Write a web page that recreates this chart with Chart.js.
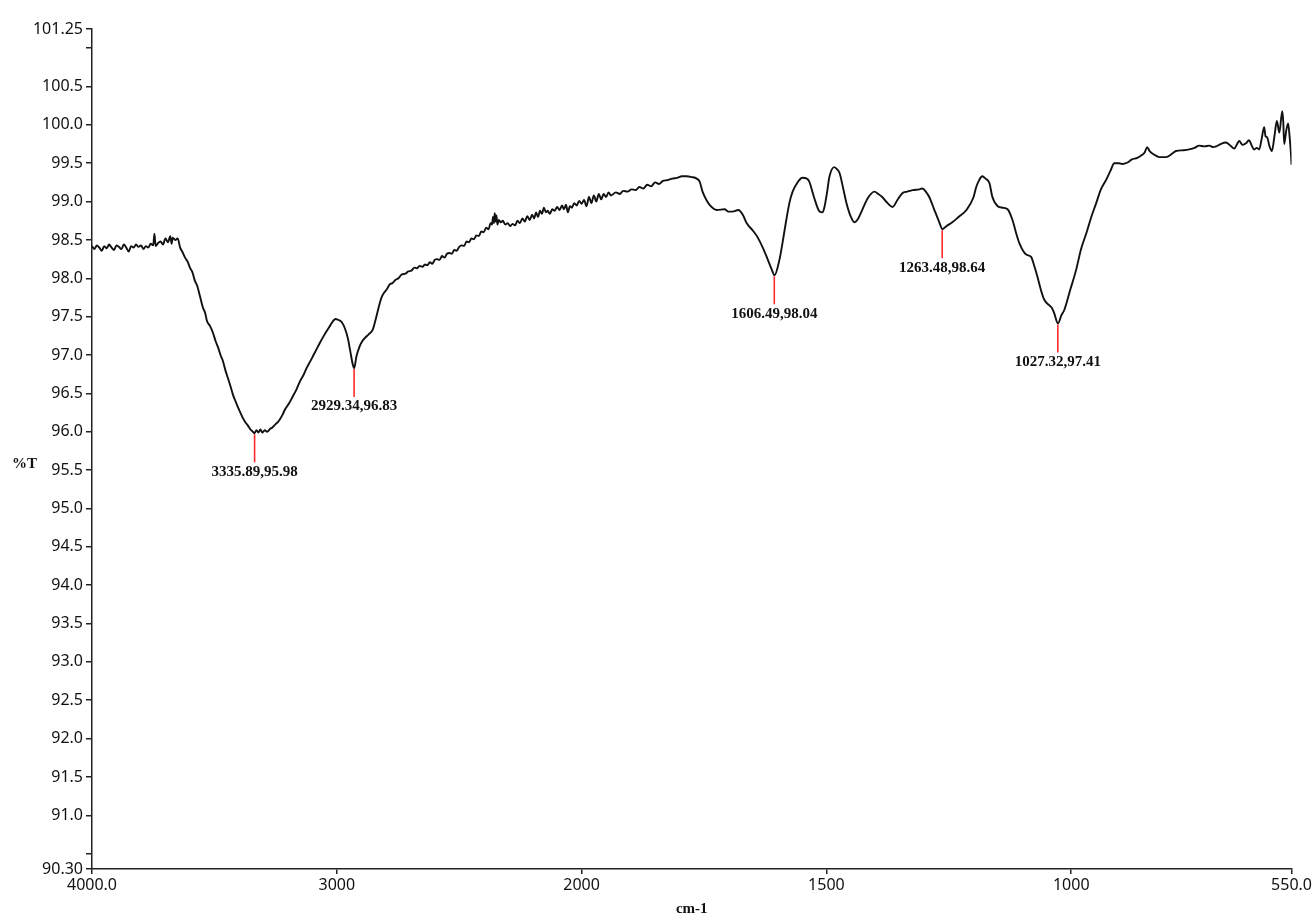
<!DOCTYPE html>
<html>
<head>
<meta charset="utf-8">
<title>FTIR spectrum</title>
<script src="https://cdn.jsdelivr.net/npm/chart.js@4.4.1/dist/chart.umd.min.js"></script>
<style>
  html, body { margin: 0; padding: 0; background: #fff; }
  #wrap { width: 1314px; height: 919px; }
</style>
</head>
<body>
<div id="wrap"><canvas id="spectrum" width="1314" height="919"></canvas></div>
<script>
// wavenumber (cm-1) and transmittance (%T)
const wavenumbers = [
  4000, 3990, 3980, 3970, 3960, 3950, 3940, 3930, 3920, 3910, 3900, 3890, 3880, 3870, 3860, 3850,
  3840, 3830, 3820, 3810, 3800, 3790, 3780, 3770, 3760, 3750, 3745, 3740, 3730, 3720, 3710, 3700,
  3690, 3680, 3675, 3670, 3660, 3650, 3640, 3630, 3620, 3610, 3600, 3590, 3580, 3570, 3560, 3547,
  3538, 3530, 3518, 3506, 3495, 3485, 3475, 3465, 3455, 3445, 3435, 3424, 3414, 3404, 3394, 3384,
  3373, 3363, 3353, 3343, 3336, 3328, 3320, 3312, 3305, 3294, 3286, 3280, 3272, 3265, 3250, 3240,
  3233, 3222, 3210, 3195, 3180, 3165, 3150, 3136, 3122, 3108, 3095, 3082, 3069, 3055, 3040, 3028,
  3016, 3005, 2995, 2980, 2965, 2955, 2945, 2935, 2929, 2920, 2906, 2896, 2886, 2870, 2853, 2840,
  2824, 2816, 2805, 2795, 2784, 2772, 2760, 2748, 2735, 2720, 2708, 2695, 2683, 2673, 2662, 2650,
  2640, 2630, 2620, 2610, 2600, 2590, 2580, 2570, 2560, 2550, 2540, 2530, 2520, 2510, 2500, 2490,
  2480, 2470, 2460, 2450, 2440, 2430, 2420, 2410, 2400, 2390, 2380, 2372, 2366, 2362, 2358, 2355,
  2351, 2348, 2344, 2338, 2330, 2322, 2312, 2302, 2292, 2282, 2272, 2262, 2252, 2242, 2232, 2222,
  2212, 2202, 2194, 2186, 2178, 2170, 2162, 2154, 2146, 2138, 2130, 2120, 2110, 2100, 2090, 2080,
  2072, 2064, 2056, 2048, 2040, 2030, 2020, 2010, 2000, 1995, 1990, 1985, 1980, 1975, 1970, 1965,
  1960, 1955, 1950, 1945, 1940, 1930, 1922, 1915, 1906, 1898, 1890, 1882, 1874, 1866, 1858, 1850,
  1842, 1834, 1825, 1815, 1805, 1795, 1786, 1775, 1765, 1759, 1753, 1745, 1739, 1724, 1708, 1700,
  1692, 1680, 1670, 1663, 1650, 1641, 1630, 1622, 1612, 1606, 1596, 1590, 1582, 1575, 1569, 1560,
  1549, 1540, 1535, 1525, 1514, 1508, 1504, 1498, 1494, 1484, 1478, 1473, 1465, 1459, 1450, 1443,
  1435, 1427, 1415, 1402, 1394, 1386, 1375, 1365, 1355, 1345, 1335, 1324, 1310, 1304, 1296, 1290,
  1280, 1270, 1263, 1255, 1243, 1230, 1214, 1200, 1194, 1188, 1182, 1175, 1167, 1161, 1150, 1140,
  1130, 1120, 1113, 1106, 1092, 1082, 1075, 1069, 1062, 1055, 1045, 1040, 1035, 1027, 1020, 1014,
  1002, 990, 980, 969, 959, 949, 940, 929, 920, 912, 902, 896, 885, 876, 865, 855,
  850, 845, 840, 835, 827, 820, 806, 795, 786, 770, 759, 748, 739, 728, 718, 710,
  704, 695, 684, 675, 667, 662, 657, 650, 643, 637, 632, 627, 621, 616, 611, 606,
  603, 600, 595, 590, 585, 580, 575, 569, 567, 565, 561, 557, 554, 551, 550
];
const transmittance = [
  98.42, 98.38, 98.43, 98.40, 98.36, 98.42, 98.39, 98.44, 98.40, 98.37, 98.43, 98.41, 98.38, 98.44, 98.40, 98.35,
  98.42, 98.40, 98.44, 98.41, 98.43, 98.38, 98.42, 98.40, 98.45, 98.43, 98.58, 98.42, 98.46, 98.48, 98.44, 98.52,
  98.47, 98.55, 98.45, 98.53, 98.50, 98.52, 98.40, 98.34, 98.27, 98.22, 98.14, 98.08, 97.97, 97.90, 97.78, 97.62,
  97.55, 97.44, 97.38, 97.29, 97.18, 97.10, 97.00, 96.92, 96.80, 96.70, 96.60, 96.48, 96.40, 96.32, 96.25, 96.18,
  96.12, 96.08, 96.03, 96.00, 95.98, 96.02, 95.99, 96.03, 95.99, 96.02, 96.00, 96.01, 96.04, 96.05, 96.10, 96.13,
  96.16, 96.22, 96.30, 96.37, 96.46, 96.55, 96.66, 96.74, 96.84, 96.92, 97.00, 97.08, 97.16, 97.24, 97.32, 97.38,
  97.44, 97.47, 97.46, 97.43, 97.33, 97.22, 97.05, 96.88, 96.83, 96.98, 97.12, 97.18, 97.22, 97.27, 97.33, 97.48,
  97.68, 97.76, 97.82, 97.86, 97.92, 97.94, 97.98, 98.00, 98.05, 98.06, 98.09, 98.10, 98.14, 98.13, 98.16, 98.15,
  98.18, 98.17, 98.21, 98.19, 98.24, 98.25, 98.24, 98.29, 98.27, 98.32, 98.33, 98.32, 98.37, 98.36, 98.41, 98.43,
  98.42, 98.48, 98.47, 98.52, 98.51, 98.56, 98.55, 98.61, 98.60, 98.66, 98.64, 98.72, 98.70, 98.80, 98.72, 98.85,
  98.74, 98.82, 98.70, 98.76, 98.73, 98.75, 98.70, 98.72, 98.68, 98.71, 98.69, 98.75, 98.72, 98.78, 98.74, 98.81,
  98.76, 98.83, 98.78, 98.86, 98.80, 98.88, 98.84, 98.92, 98.86, 98.88, 98.84, 98.90, 98.88, 98.93, 98.89, 98.95,
  98.90, 98.96, 98.86, 98.94, 98.92, 98.98, 98.95, 99.01, 98.97, 99.02, 98.94, 99.06, 98.98, 99.08, 99.00, 99.10,
  99.03, 99.10, 99.06, 99.12, 99.08, 99.12, 99.10, 99.14, 99.13, 99.16, 99.15, 99.19, 99.17, 99.22, 99.20, 99.25,
  99.23, 99.27, 99.28, 99.30, 99.31, 99.33, 99.33, 99.32, 99.30, 99.26, 99.13, 99.02, 98.96, 98.89, 98.90, 98.87,
  98.87, 98.89, 98.82, 98.72, 98.62, 98.54, 98.40, 98.28, 98.12, 98.04, 98.24, 98.45, 98.76, 99.00, 99.13, 99.24,
  99.31, 99.30, 99.26, 99.05, 98.87, 98.86, 98.93, 99.15, 99.32, 99.45, 99.42, 99.37, 99.15, 98.98, 98.80, 98.73,
  98.78, 98.89, 99.05, 99.13, 99.10, 99.06, 98.98, 98.93, 99.02, 99.11, 99.13, 99.15, 99.16, 99.17, 99.12, 99.06,
  98.90, 98.74, 98.64, 98.68, 98.73, 98.80, 98.89, 99.05, 99.19, 99.28, 99.33, 99.30, 99.24, 99.06, 98.94, 98.92,
  98.90, 98.76, 98.60, 98.46, 98.31, 98.28, 98.15, 98.02, 97.85, 97.72, 97.65, 97.62, 97.55, 97.41, 97.52, 97.59,
  97.85, 98.11, 98.38, 98.59, 98.80, 98.98, 99.15, 99.28, 99.40, 99.50, 99.50, 99.49, 99.51, 99.55, 99.57, 99.61,
  99.64, 99.71, 99.66, 99.63, 99.60, 99.58, 99.58, 99.62, 99.66, 99.67, 99.68, 99.70, 99.73, 99.72, 99.73, 99.71,
  99.72, 99.75, 99.77, 99.73, 99.69, 99.74, 99.79, 99.74, 99.76, 99.80, 99.74, 99.68, 99.70, 99.68, 99.82, 99.97,
  99.85, 99.84, 99.72, 99.66, 99.85, 100.05, 99.90, 100.18, 100.05, 99.75, 99.92, 100.02, 99.85, 99.60, 99.48
];

// labelled absorption bands
const peakWavenumbers = [3335.89, 2929.34, 1606.49, 1263.48, 1027.32];
const peakTransmittance = [95.98, 96.83, 98.04, 98.64, 97.41];

const xTickValues = [4000, 3000, 2000, 1500, 1000, 550];
const xTickLabels = ['4000.0', '3000', '2000', '1500', '1000', '550.0'];
const yTickValues = [90.30, 90.5, 91.0, 91.5, 92.0, 92.5, 93.0, 93.5, 94.0, 94.5, 95.0, 95.5, 96.0,
  96.5, 97.0, 97.5, 98.0, 98.5, 99.0, 99.5, 100.0, 100.5, 101.0, 101.25];
const yTickLabels = ['90.30', '', '91.0', '91.5', '92.0', '92.5', '93.0', '93.5', '94.0', '94.5', '95.0', '95.5', '96.0',
  '96.5', '97.0', '97.5', '98.0', '98.5', '99.0', '99.5', '100.0', '100.5', '', '101.25'];

// the x axis runs 4000 -> 550 with the scale doubled below 2000 cm-1
function toAxis(wn) {
  return wn >= 2000 ? (4000 - wn) / 2 : 1000 + (2000 - wn);
}

const tickFont = { family: 'Noto Sans', size: 16 };
const inkColor = '#111';

const peakMarkers = {
  id: 'peakMarkers',
  afterDatasetsDraw(chart) {
    const { ctx, scales: { x, y } } = chart;
    ctx.save();
    peakWavenumbers.forEach((wn, i) => {
      const px = x.getPixelForValue(toAxis(wn));
      const py = y.getPixelForValue(peakTransmittance[i]);
      ctx.strokeStyle = '#ff2a2a';
      ctx.lineWidth = 1.6;
      ctx.beginPath();
      ctx.moveTo(px, py + 1);
      ctx.lineTo(px, py + 29);
      ctx.stroke();
      ctx.fillStyle = inkColor;
      ctx.font = 'bold 15px "Liberation Serif"';
      ctx.textAlign = 'center';
      ctx.textBaseline = 'top';
      ctx.fillText(wn.toFixed(2) + ',' + peakTransmittance[i].toFixed(2), px, py + 31);
    });
    ctx.restore();
  }
};

const yAxisLabel = {
  id: 'yAxisLabel',
  afterDraw(chart) {
    const { ctx, scales: { y } } = chart;
    ctx.save();
    ctx.fillStyle = inkColor;
    ctx.font = 'bold 15px "Liberation Serif"';
    ctx.textAlign = 'left';
    ctx.textBaseline = 'middle';
    ctx.fillText('%T', 12, y.getPixelForValue(95.5) - 6);
    ctx.restore();
  }
};

new Chart(document.getElementById('spectrum'), {
  type: 'line',
  data: {
    datasets: [{
      data: wavenumbers.map((wn, i) => ({ x: toAxis(wn), y: transmittance[i] })),
      borderColor: '#111',
      borderWidth: 1.9,
      pointRadius: 0,
      fill: false,
      cubicInterpolationMode: 'monotone'
    }]
  },
  options: {
    responsive: false,
    animation: false,
    layout: { padding: { left: 0, right: 22, top: 29, bottom: 0 } },
    plugins: {
      legend: { display: false },
      tooltip: { enabled: false }
    },
    scales: {
      x: {
        type: 'linear',
        min: 0,
        max: toAxis(550),
        afterBuildTicks: scale => {
          scale.ticks = xTickValues.map(wn => ({ value: toAxis(wn) }));
        },
        afterFit: scale => { scale.height = 50; },
        ticks: {
          autoSkip: false,
          maxRotation: 0,
          padding: 2,
          color: inkColor,
          font: tickFont,
          callback: (value, index) => xTickLabels[index]
        },
        grid: { drawOnChartArea: false, drawTicks: true, tickLength: 5, color: '#222', lineWidth: 1.5 },
        border: { display: true, color: '#222', width: 1.5 },
        title: {
          display: true,
          text: 'cm-1',
          color: inkColor,
          font: { family: 'Liberation Serif', size: 15, weight: 'bold' },
          padding: { top: 0, bottom: 1 }
        }
      },
      y: {
        type: 'linear',
        min: 90.30,
        max: 101.25,
        afterBuildTicks: scale => {
          scale.ticks = yTickValues.map(v => ({ value: v }));
        },
        afterFit: scale => { scale.width = 92; },
        ticks: {
          autoSkip: false,
          padding: 3,
          color: inkColor,
          font: tickFont,
          callback: (value, index) => yTickLabels[index]
        },
        grid: { drawOnChartArea: false, drawTicks: true, tickLength: 6, color: '#222', lineWidth: 1.5 },
        border: { display: true, color: '#222', width: 1.5 }
      }
    }
  },
  plugins: [peakMarkers, yAxisLabel]
});
</script>
</body>
</html>
